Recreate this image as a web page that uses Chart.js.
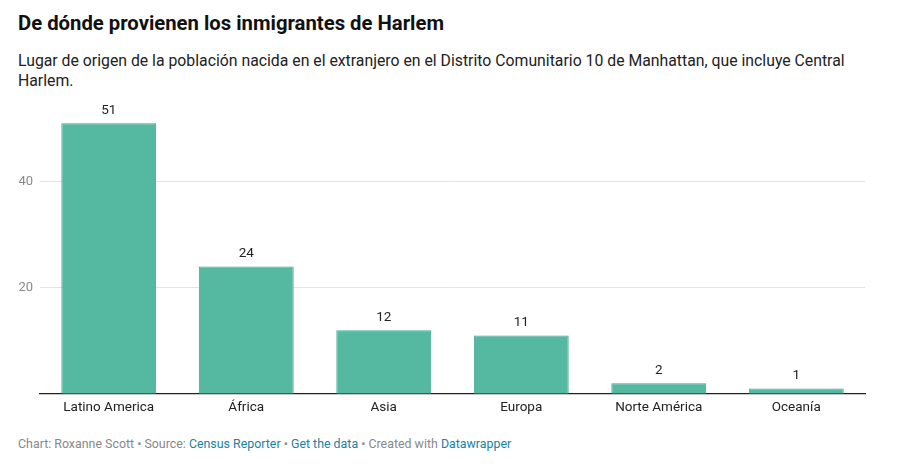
<!DOCTYPE html>
<html>
<head>
<meta charset="utf-8">
<script src="https://cdn.jsdelivr.net/npm/chart.js@4"></script>
<style>
  html,body{margin:0;padding:0;background:#fff;}
  body{width:900px;height:469px;position:relative;overflow:hidden;font-family:Roboto,"Noto Sans",sans-serif;}
  #title{position:absolute;left:18px;top:11px;font-size:20.3px;font-weight:700;color:#111;}
  #sub{position:absolute;left:18px;top:51px;width:870px;font-size:15.8px;line-height:20px;color:#222;}
  #foot{position:absolute;left:18px;top:436px;font-size:12.4px;color:#888;}
  #foot span.l{color:#1d81a2;}
  #wrap{position:absolute;left:0;top:82px;width:900px;height:345px;}
</style>
</head>
<body>
<div id="title">De dónde provienen los inmigrantes de Harlem</div>
<div id="sub">Lugar de origen de la población nacida en el extranjero en el Distrito Comunitario 10 de Manhattan, que incluye Central Harlem.</div>
<div id="wrap"><canvas id="c"></canvas></div>
<div id="foot">Chart: Roxanne Scott • Source: <span class="l">Census Reporter</span> • <span class="l">Get the data</span> • Created with <span class="l">Datawrapper</span></div>
<script>
const categories = ["Latino America", "África", "Asia", "Europa", "Norte América", "Oceanía"];
const values = [51, 24, 12, 11, 2, 1];
const yTicks = [20, 40];

const labelPlugin = {
  id: 'valueLabels',
  afterDatasetsDraw(chart) {
    const ctx = chart.ctx;
    const meta = chart.getDatasetMeta(0);
    ctx.save();
    ctx.font = '13.5px Roboto, sans-serif';
    ctx.fillStyle = '#222';
    ctx.textAlign = 'center';
    ctx.textBaseline = 'bottom';
    meta.data.forEach((bar, i) => {
      ctx.fillText(String(values[i]), bar.x, bar.y - 6);
    });
    ctx.restore();
  }
};

new Chart(document.getElementById('c'), {
  type: 'bar',
  data: {
    labels: categories,
    datasets: [{
      data: values,
      backgroundColor: '#55b9a2',
      borderColor: '#3aa68a',
      borderWidth: 1,
      categoryPercentage: 1,
      barPercentage: 0.69
    }]
  },
  options: {
    responsive: true,
    maintainAspectRatio: false,
    animation: false,
    layout: { padding: { top: 6, right: 35, bottom: 5, left: 0 } },
    plugins: { legend: { display: false }, tooltip: { enabled: false } },
    scales: {
      x: {
        grid: { display: false, drawTicks: false },
        border: { display: true, color: '#222', width: 1.3 },
        ticks: { color: '#222', font: { family: 'Roboto', size: 13.5 }, padding: 6, maxRotation: 0 }
      },
      y: {
        min: 0, max: 56,
        afterFit(scale) { scale.width = 40; },
        afterBuildTicks(scale) { scale.ticks = yTicks.map(v => ({ value: v })); },
        grid: { color: '#e3e3e3', drawTicks: false, lineWidth: 1 },
        border: { display: false },
        ticks: { color: '#8a8a8a', font: { family: 'Roboto', size: 13 }, padding: 7 }
      }
    }
  },
  plugins: [labelPlugin]
});
</script>
</body>
</html>
